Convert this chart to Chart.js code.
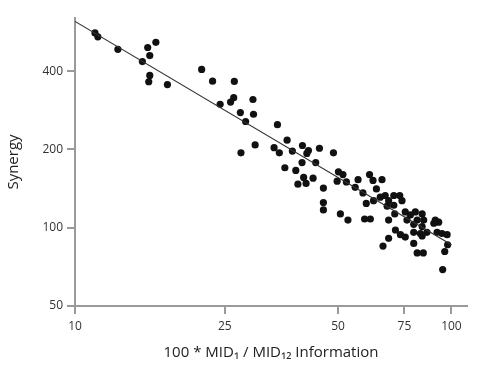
<!DOCTYPE html>
<html>
<head>
<meta charset="utf-8">
<script src="https://cdn.jsdelivr.net/npm/chart.js"></script>
<style>
  body { margin: 0; background: #fff; }
  #wrap { width: 480px; height: 368px; }
</style>
</head>
<body>
<div id="wrap"><canvas id="c"></canvas></div>
<script>
// scatter values (x = 100*MID1/MID12, y = synergy)
const infoX = [11.3, 11.5, 13.0, 15.6, 16.4, 15.8, 15.1, 15.8, 15.7, 17.6,
  21.7, 23.2, 26.5, 24.3, 26.4, 25.9, 29.7, 27.5, 29.8, 28.4,
  30.1, 27.6, 34.5, 36.6, 33.8, 34.9, 40.2, 37.8, 41.7, 41.3,
  44.6, 48.6, 40.1, 43.6, 36.1, 38.6, 40.5, 42.9, 39.1, 41.1,
  45.7, 50.1, 51.5, 49.7, 52.6, 56.5, 55.5, 60.6, 61.9, 65.4,
  63.2, 58.2, 45.7, 45.7, 50.7, 53.1, 58.8, 60.9, 59.4, 62.1,
  64.7, 66.7, 68.1, 70.3, 72.9, 73.9, 67.5, 70.3, 70.7, 68.1,
  75.4, 77.8, 80.2, 83.6, 76.2, 81.1, 84.4, 90.6, 92.5, 79.4,
  83.6, 71.0, 73.2, 75.4, 79.4, 82.7, 86.1, 83.6, 91.6, 94.4,
  97.4, 97.7, 96.0, 68.1, 65.8, 79.4, 81.1, 84.2, 94.8, 89.8];
const synergy = [561, 542, 485, 493, 516, 459, 435, 385, 364, 355,
  406, 366, 365, 298, 316, 304, 311, 277, 273, 256,
  208, 194, 249, 217, 203, 194, 207, 197, 198, 193,
  202, 194, 178, 178, 170, 166, 156, 155, 147, 148,
  142, 164, 160, 151, 150, 153, 143, 160, 152, 153,
  141, 136, 125, 117, 113, 107, 108, 108, 124, 127,
  131, 133, 127, 133, 133, 127, 121, 122, 113, 107,
  115, 112, 115, 113, 107, 107, 107, 107, 105, 103,
  101, 98, 94, 92, 96, 95, 96, 93, 96, 95,
  94, 86, 81, 91, 85, 87, 80, 80, 69, 104];
// fitted line end points
const fitX = [10, 100];
const fitY = [621, 86];
// tick labels
const xTicks = [10, 25, 50, 75, 100];
const yTicks = [50, 100, 200, 400];

const pts = infoX.map((x, i) => ({ x: x, y: synergy[i] }));
const fit = fitX.map((x, i) => ({ x: x, y: fitY[i] }));

const axisGrey = '#9a9a9a';
const tickFont = { family: 'Open Sans', size: 12 };

new Chart(document.getElementById('c'), {
  type: 'scatter',
  data: {
    datasets: [
      { type: 'line', data: fit, borderColor: '#333', borderWidth: 1.2, pointRadius: 0, fill: false },
      { data: pts, backgroundColor: '#111', borderColor: '#111', pointRadius: 3.6, borderWidth: 0 }
    ]
  },
  options: {
    responsive: true,
    maintainAspectRatio: false,
    animation: false,
    layout: { padding: { left: 0, right: 13, top: 18, bottom: 0 } },
    plugins: { legend: { display: false }, tooltip: { enabled: false } },
    scales: {
      x: {
        type: 'logarithmic', min: 10, max: 110,
        afterBuildTicks: s => { s.ticks = xTicks.map(v => ({ value: v })); },
        afterFit: s => { s.height = 62; },
        border: { display: true, color: axisGrey, width: 2 },
        grid: { drawOnChartArea: false, drawTicks: true, tickLength: 8, color: axisGrey, lineWidth: 2 },
        ticks: { color: '#333', font: tickFont, padding: 5, maxRotation: 0, autoSkip: false, callback: v => String(v) },
        title: { display: true, text: '100 * MID₁ / MID₁₂ Information', color: '#222', font: { family: 'Open Sans', size: 15 }, padding: { top: 2, bottom: 6 } }
      },
      y: {
        type: 'logarithmic', min: 50, max: 640,
        afterBuildTicks: s => { s.ticks = yTicks.map(v => ({ value: v })); },
        afterFit: s => { s.width = 75; },
        border: { display: true, color: axisGrey, width: 2 },
        grid: { drawOnChartArea: false, drawTicks: true, tickLength: 8, color: axisGrey, lineWidth: 2 },
        ticks: { color: '#333', font: tickFont, padding: 4, autoSkip: false, callback: v => String(v) },
        title: { display: true, text: 'Synergy', color: '#222', font: { family: 'Open Sans', size: 15 }, padding: { top: 5, bottom: 8 } }
      }
    }
  }
});
</script>
</body>
</html>
